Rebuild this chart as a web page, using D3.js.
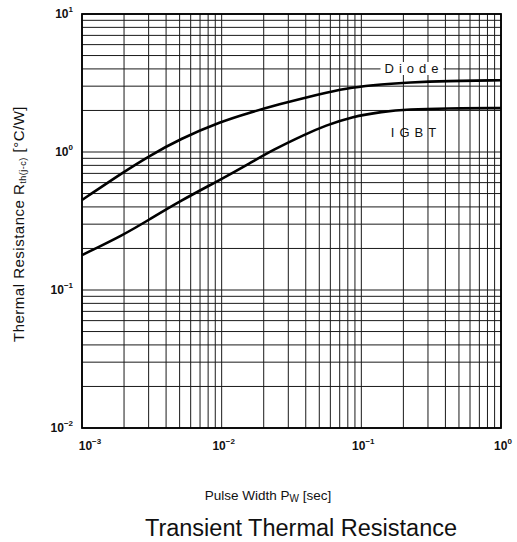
<!DOCTYPE html>
<html>
<head>
<meta charset="utf-8">
<script src="https://cdn.jsdelivr.net/npm/d3@7"></script>
<style>
  body { margin: 0; background: #fff; }
  text { font-family: "Liberation Sans", Arial, sans-serif; fill: #111; }
</style>
</head>
<body>
<div id="chart"></div>
<script>
// values (pulse width in sec, Rth in °C/W)
const pulseWidth = [0.001, 0.002, 0.003, 0.005, 0.01, 0.016, 0.023, 0.04, 0.055, 0.085, 0.14, 0.22, 0.4, 1];
const diodeRth = [0.449, 0.72, 0.93, 1.24, 1.67, 1.93, 2.15, 2.48, 2.68, 2.94, 3.1, 3.19, 3.27, 3.31];
const igbtRth = [0.179, 0.252, 0.322, 0.44, 0.637, 0.83, 1.03, 1.35, 1.55, 1.8, 1.96, 2.04, 2.07, 2.08];
const xTickExp = [-3, -2, -1, 0];
const yTickExp = [-2, -1, 0, 1];

const width = 517,
  height = 542;
const plot = { left: 82, right: 501, top: 14, bottom: 428 };

const svg = d3
  .select("#chart")
  .append("svg")
  .attr("width", width)
  .attr("height", height);

const x = d3.scaleLog().domain([1e-3, 1]).range([plot.left, plot.right]);
const y = d3.scaleLog().domain([1e-2, 10]).range([plot.bottom, plot.top]);

// grid: every 1..9 x 10^k line
const grid = svg.append("g").attr("class", "grid");
grid
  .selectAll("line.v")
  .data(x.ticks())
  .join("line")
  .attr("class", "v")
  .attr("x1", (d) => x(d))
  .attr("x2", (d) => x(d))
  .attr("y1", plot.top)
  .attr("y2", plot.bottom)
  .style("stroke", "#1a1a1a")
  .style("stroke-width", 1);
grid
  .selectAll("line.h")
  .data(y.ticks())
  .join("line")
  .attr("class", "h")
  .attr("x1", plot.left)
  .attr("x2", plot.right)
  .attr("y1", (d) => y(d))
  .attr("y2", (d) => y(d))
  .style("stroke", "#1a1a1a")
  .style("stroke-width", 1);

svg
  .append("rect")
  .attr("x", plot.left)
  .attr("y", plot.top)
  .attr("width", plot.right - plot.left)
  .attr("height", plot.bottom - plot.top)
  .style("fill", "none")
  .style("stroke", "#000")
  .style("stroke-width", 1.8);

// curves
const line = d3
  .line()
  .x((d) => x(d[0]))
  .y((d) => y(d[1]))
  .curve(d3.curveBasis);

[diodeRth, igbtRth].forEach((vals) => {
  svg
    .append("path")
    .datum(pulseWidth.map((p, i) => [p, vals[i]]))
    .attr("d", line)
    .style("fill", "none")
    .style("stroke", "#000")
    .style("stroke-width", 2.6);
});

// curve labels
const diodeLabel = svg
  .append("text")
  .attr("x", 414)
  .attr("y", 73)
  .attr("text-anchor", "middle")
  .style("font-size", "13px")
  .style("letter-spacing", "5px")
  .text("Diode");
const bb = diodeLabel.node().getBBox();
svg
  .insert("rect", "text")
  .attr("x", bb.x - 4)
  .attr("y", bb.y + 1)
  .attr("width", bb.width + 4)
  .attr("height", bb.height - 2)
  .style("fill", "#fff");

svg
  .append("text")
  .attr("x", 416)
  .attr("y", 137)
  .attr("text-anchor", "middle")
  .style("font-size", "13px")
  .style("letter-spacing", "5px")
  .text("IGBT");

// tick labels
const expLabel = (sel, e) => {
  sel.append("tspan").text("10");
  sel
    .append("tspan")
    .attr("dy", -6)
    .style("font-size", "8px")
    .text(e < 0 ? "\u2212" + -e : e);
};

xTickExp.forEach((e) => {
  svg
    .append("text")
    .attr("x", x(Math.pow(10, e)) + (e === -3 ? 8 : 2))
    .attr("y", 450)
    .attr("text-anchor", "middle")
    .style("font-size", "12px")
    .style("font-weight", "bold")
    .call(expLabel, e);
});

yTickExp.forEach((e) => {
  svg
    .append("text")
    .attr("x", 73)
    .attr("y", y(Math.pow(10, e)) + 4)
    .attr("text-anchor", "end")
    .style("font-size", "12px")
    .style("font-weight", "bold")
    .call(expLabel, e);
});

// axis titles
const xTitle = svg
  .append("text")
  .attr("x", 268)
  .attr("y", 500)
  .attr("text-anchor", "middle")
  .style("font-size", "13.5px");
xTitle.append("tspan").text("Pulse Width P");
xTitle.append("tspan").attr("dy", 2).style("font-size", "10px").text("W");
xTitle.append("tspan").attr("dy", -2).text(" [sec]");

const yTitle = svg
  .append("text")
  .attr("transform", "translate(24,224) rotate(-90)")
  .attr("text-anchor", "middle")
  .style("font-size", "15px")
  .style("letter-spacing", "0.5px");
yTitle.append("tspan").text("Thermal Resistance R");
yTitle.append("tspan").attr("dy", 2).style("font-size", "9px").text("th(j-c)");
yTitle.append("tspan").attr("dy", -2).text(" [\u00b0C/W]");

svg
  .append("text")
  .attr("x", 301)
  .attr("y", 536)
  .attr("text-anchor", "middle")
  .style("font-size", "23.5px")
  .text("Transient Thermal Resistance");
</script>
</body>
</html>
